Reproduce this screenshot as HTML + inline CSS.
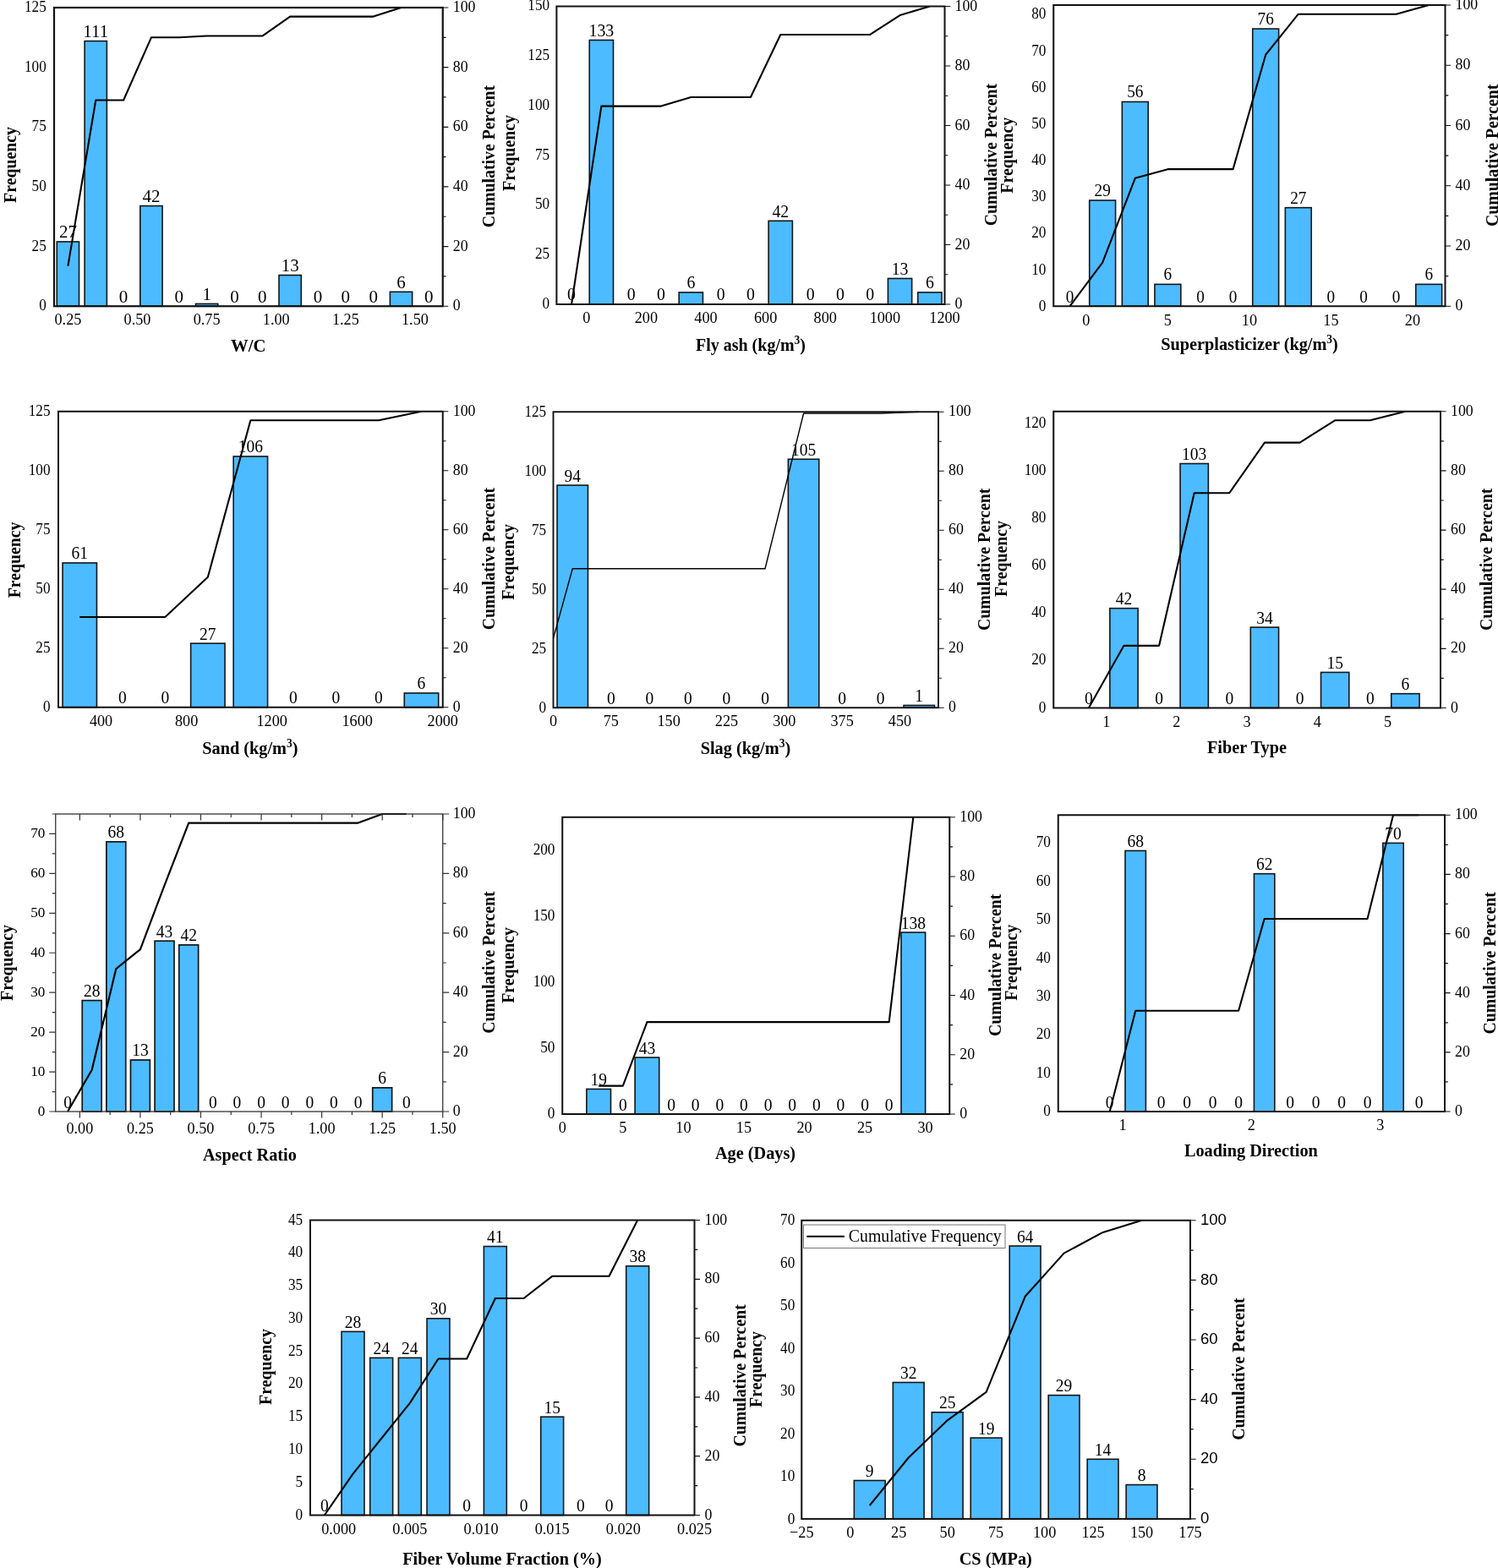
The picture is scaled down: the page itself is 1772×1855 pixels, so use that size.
<!DOCTYPE html>
<html lang="en">
<head>
<meta charset="utf-8">
<title>Histograms with cumulative percent</title>
<style>
html,body{margin:0;padding:0;background:#fff;}
body{width:1772px;height:1855px;overflow:hidden;}
svg{display:block;font-family:"Liberation Serif",serif;fill:#000;}
.bl text{text-anchor:middle;}
.rls text{font-family:"Liberation Sans",sans-serif;font-size:18.5px;}
.tt{font-weight:bold;}
.sup{font-size:13.5px;}
.lg{font-size:19.8px;}
</style>
</head>
<body>
<svg width="1772" height="1855" viewBox="0 0 1772 1855">
<defs><clipPath id="cp0"><rect x="64" y="8" width="459.75" height="355.25"/></clipPath><clipPath id="cp1"><rect x="658.4" y="6.5" width="459.1" height="354.5"/></clipPath><clipPath id="cp2"><rect x="1246.25" y="5" width="463.25" height="358.25"/></clipPath><clipPath id="cp3"><rect x="69" y="485.75" width="454.75" height="352"/></clipPath><clipPath id="cp4"><rect x="654.5" y="486.25" width="455.5" height="352"/></clipPath><clipPath id="cp5"><rect x="1246.25" y="485.75" width="457.75" height="352.75"/></clipPath><clipPath id="cp6"><rect x="65.75" y="962" width="458" height="354"/></clipPath><clipPath id="cp7"><rect x="665.25" y="965.75" width="458" height="353.25"/></clipPath><clipPath id="cp8"><rect x="1251.75" y="963.25" width="457.25" height="352.75"/></clipPath><clipPath id="cp9"><rect x="367" y="1442.5" width="454.5" height="351"/></clipPath><clipPath id="cp10"><rect x="948.25" y="1442.75" width="459.75" height="355.15"/></clipPath></defs>
<rect width="1772" height="1855" fill="#fff"/>
<g class="chart">
<g fill="#4DBBFF" stroke="#151515" stroke-width="1.6"><rect x="67.28" y="285.95" width="26.27" height="76.3"/><rect x="100.12" y="48.56" width="26.27" height="313.69"/><rect x="165.8" y="243.56" width="26.27" height="118.69"/><rect x="231.48" y="359.42" width="26.27" height="2.83"/><rect x="330" y="325.51" width="26.27" height="36.74"/><rect x="461.36" y="345.29" width="26.27" height="16.96"/></g>
<g class="bl" font-size="21"><text transform="translate(80.42 281.45) scale(1 1.02)">27</text><text transform="translate(113.26 44.06) scale(1 1.02)">111</text><text transform="translate(146.1 358.25) scale(1 1.02)">0</text><text transform="translate(178.94 239.06) scale(1 1.02)">42</text><text transform="translate(211.78 358.25) scale(1 1.02)">0</text><text transform="translate(244.62 354.92) scale(1 1.02)">1</text><text transform="translate(277.46 358.25) scale(1 1.02)">0</text><text transform="translate(310.29 358.25) scale(1 1.02)">0</text><text transform="translate(343.13 321.01) scale(1 1.02)">13</text><text transform="translate(375.97 358.25) scale(1 1.02)">0</text><text transform="translate(408.81 358.25) scale(1 1.02)">0</text><text transform="translate(441.65 358.25) scale(1 1.02)">0</text><text transform="translate(474.49 340.79) scale(1 1.02)">6</text><text transform="translate(507.33 358.25) scale(1 1.02)">0</text></g>
<path d="M523.75 362.25h6.6M523.75 326.93h3.8M523.75 291.6h6.6M523.75 256.27h3.8M523.75 220.95h6.6M523.75 185.62h3.8M523.75 150.3h6.6M523.75 114.97h3.8M523.75 79.65h6.6M523.75 44.32h3.8M523.75 9h6.6" stroke="#111" stroke-width="1.2" fill="none"/>
<path d="M80.42 314.56 L113.26 118.51 L146.1 118.51 L178.94 44.32 L211.78 44.32 L244.62 42.56 L277.46 42.56 L310.29 42.56 L343.13 19.6 L375.97 19.6 L408.81 19.6 L441.65 19.6 L474.49 9 L507.33 9" fill="none" stroke="#000" stroke-width="2.1" stroke-linejoin="round" clip-path="url(#cp0)"/>
<rect x="64" y="9" width="459.75" height="353.25" fill="none" stroke="#111" stroke-width="2.2"/>
<g class="tl" font-size="17.2"><text transform="translate(54.8 367.25) scale(1 1.1)" text-anchor="end">0</text><text transform="translate(54.8 296.6) scale(1 1.1)" text-anchor="end">25</text><text transform="translate(54.8 225.95) scale(1 1.1)" text-anchor="end">50</text><text transform="translate(54.8 155.3) scale(1 1.1)" text-anchor="end">75</text><text transform="translate(54.8 84.65) scale(1 1.1)" text-anchor="end">100</text><text transform="translate(54.8 14) scale(1 1.1)" text-anchor="end">125</text></g>
<g class="tl" font-size="18.2"><text transform="translate(80.42 384.25) scale(1 1.08)" text-anchor="middle">0.25</text><text transform="translate(162.52 384.25) scale(1 1.08)" text-anchor="middle">0.50</text><text transform="translate(244.62 384.25) scale(1 1.08)" text-anchor="middle">0.75</text><text transform="translate(326.71 384.25) scale(1 1.08)" text-anchor="middle">1.00</text><text transform="translate(408.81 384.25) scale(1 1.08)" text-anchor="middle">1.25</text><text transform="translate(490.91 384.25) scale(1 1.08)" text-anchor="middle">1.50</text></g>
<g class="tl" font-size="17.8"><text transform="translate(535.75 367.25) scale(1 1.06)">0</text><text transform="translate(535.75 296.6) scale(1 1.06)">20</text><text transform="translate(535.75 225.95) scale(1 1.06)">40</text><text transform="translate(535.75 155.3) scale(1 1.06)">60</text><text transform="translate(535.75 84.65) scale(1 1.06)">80</text><text transform="translate(535.75 14) scale(1 1.06)">100</text></g>
<text transform="translate(18.7 195) rotate(-90) scale(1 1.06)" text-anchor="middle" class="tt" font-size="19.8">Frequency</text>
<text transform="translate(585.3 185) rotate(-90) scale(1 1.06)" text-anchor="middle" class="tt" font-size="19.8">Cumulative Percent</text>
<text transform="translate(293.75 415.5) scale(1 1.04)" text-anchor="middle" class="tt" font-size="20.7">W/C</text>
</g>
<g class="chart">
<g fill="#4DBBFF" stroke="#151515" stroke-width="1.6"><rect x="697.25" y="47.45" width="28.25" height="312.55"/><rect x="803.19" y="345.9" width="28.25" height="14.1"/><rect x="909.14" y="261.3" width="28.25" height="98.7"/><rect x="1050.4" y="329.45" width="28.25" height="30.55"/><rect x="1085.72" y="345.9" width="28.25" height="14.1"/></g>
<g class="bl" font-size="19.8"><text transform="translate(676.06 355) scale(1 1.06)">0</text><text transform="translate(711.37 42.95) scale(1 1.06)">133</text><text transform="translate(746.69 355) scale(1 1.06)">0</text><text transform="translate(782 355) scale(1 1.06)">0</text><text transform="translate(817.32 341.4) scale(1 1.06)">6</text><text transform="translate(852.63 355) scale(1 1.06)">0</text><text transform="translate(887.95 355) scale(1 1.06)">0</text><text transform="translate(923.27 256.8) scale(1 1.06)">42</text><text transform="translate(958.58 355) scale(1 1.06)">0</text><text transform="translate(993.9 355) scale(1 1.06)">0</text><text transform="translate(1029.21 355) scale(1 1.06)">0</text><text transform="translate(1064.53 324.95) scale(1 1.06)">13</text><text transform="translate(1099.84 341.4) scale(1 1.06)">6</text></g>
<path d="M1117.5 360h6.6M1117.5 324.75h3.8M1117.5 289.5h6.6M1117.5 254.25h3.8M1117.5 219h6.6M1117.5 183.75h3.8M1117.5 148.5h6.6M1117.5 113.25h3.8M1117.5 78h6.6M1117.5 42.75h3.8M1117.5 7.5h6.6" stroke="#111" stroke-width="1.2" fill="none"/>
<path d="M676.06 360 L711.37 125.59 L746.69 125.59 L782 125.59 L817.32 115.01 L852.63 115.01 L887.95 115.01 L923.27 40.99 L958.58 40.99 L993.9 40.99 L1029.21 40.99 L1064.53 18.07 L1099.84 7.5" fill="none" stroke="#000" stroke-width="2.1" stroke-linejoin="round" clip-path="url(#cp1)"/>
<rect x="658.4" y="7.5" width="459.1" height="352.5" fill="none" stroke="#111" stroke-width="2.0"/>
<g class="tl" font-size="17.2"><text transform="translate(650.1 364.9) scale(1 1.04)" text-anchor="end">0</text><text transform="translate(650.1 306.15) scale(1 1.04)" text-anchor="end">25</text><text transform="translate(650.1 247.4) scale(1 1.04)" text-anchor="end">50</text><text transform="translate(650.1 188.65) scale(1 1.04)" text-anchor="end">75</text><text transform="translate(650.1 129.9) scale(1 1.04)" text-anchor="end">100</text><text transform="translate(650.1 71.15) scale(1 1.04)" text-anchor="end">125</text><text transform="translate(650.1 12.4) scale(1 1.04)" text-anchor="end">150</text></g>
<g class="tl" font-size="18.2"><text transform="translate(693.72 381.5) scale(1 1.02)" text-anchor="middle">0</text><text transform="translate(764.35 381.5) scale(1 1.02)" text-anchor="middle">200</text><text transform="translate(834.98 381.5) scale(1 1.02)" text-anchor="middle">400</text><text transform="translate(905.61 381.5) scale(1 1.02)" text-anchor="middle">600</text><text transform="translate(976.24 381.5) scale(1 1.02)" text-anchor="middle">800</text><text transform="translate(1046.87 381.5) scale(1 1.02)" text-anchor="middle">1000</text><text transform="translate(1117.5 381.5) scale(1 1.02)" text-anchor="middle">1200</text></g>
<g class="tl" font-size="17.8"><text transform="translate(1129.5 365) scale(1 1.06)">0</text><text transform="translate(1129.5 294.5) scale(1 1.06)">20</text><text transform="translate(1129.5 224) scale(1 1.06)">40</text><text transform="translate(1129.5 153.5) scale(1 1.06)">60</text><text transform="translate(1129.5 83) scale(1 1.06)">80</text><text transform="translate(1129.5 12.5) scale(1 1.06)">100</text></g>
<text transform="translate(608.7 181) rotate(-90) scale(1 1.06)" text-anchor="middle" class="tt" font-size="19.8">Frequency</text>
<text transform="translate(1178.5 183) rotate(-90) scale(1 1.06)" text-anchor="middle" class="tt" font-size="19.8">Cumulative Percent</text>
<text transform="translate(888 415) scale(1 1.04)" text-anchor="middle" class="tt" font-size="20">Fly ash (kg/m<tspan class="sup" dy="-7.5">3</tspan><tspan dy="7.5">)</tspan></text>
</g>
<g class="chart">
<g fill="#4DBBFF" stroke="#151515" stroke-width="1.6"><rect x="1288.71" y="237.02" width="30.88" height="125.23"/><rect x="1327.32" y="120.43" width="30.88" height="241.82"/><rect x="1365.92" y="336.34" width="30.88" height="25.91"/><rect x="1481.74" y="34.07" width="30.88" height="328.18"/><rect x="1520.34" y="245.66" width="30.88" height="116.59"/><rect x="1674.76" y="336.34" width="30.88" height="25.91"/></g>
<g class="bl" font-size="19.2"><text transform="translate(1265.55 357.75) scale(1 1.06)">0</text><text transform="translate(1304.16 232.02) scale(1 1.06)">29</text><text transform="translate(1342.76 115.43) scale(1 1.06)">56</text><text transform="translate(1381.36 331.34) scale(1 1.06)">6</text><text transform="translate(1419.97 357.75) scale(1 1.06)">0</text><text transform="translate(1458.57 357.75) scale(1 1.06)">0</text><text transform="translate(1497.18 29.07) scale(1 1.06)">76</text><text transform="translate(1535.78 240.66) scale(1 1.06)">27</text><text transform="translate(1574.39 357.75) scale(1 1.06)">0</text><text transform="translate(1612.99 357.75) scale(1 1.06)">0</text><text transform="translate(1651.59 357.75) scale(1 1.06)">0</text><text transform="translate(1690.2 331.34) scale(1 1.06)">6</text></g>
<path d="M1709.5 362.25h6.6M1709.5 326.62h3.8M1709.5 291h6.6M1709.5 255.38h3.8M1709.5 219.75h6.6M1709.5 184.12h3.8M1709.5 148.5h6.6M1709.5 112.88h3.8M1709.5 77.25h6.6M1709.5 41.62h3.8M1709.5 6h6.6" stroke="#111" stroke-width="1.2" fill="none"/>
<path d="M1265.55 362.25 L1304.16 310.59 L1342.76 210.84 L1381.36 200.16 L1419.97 200.16 L1458.57 200.16 L1497.18 64.78 L1535.78 16.69 L1574.39 16.69 L1612.99 16.69 L1651.59 16.69 L1690.2 6" fill="none" stroke="#000" stroke-width="2.1" stroke-linejoin="round" clip-path="url(#cp2)"/>
<rect x="1246.25" y="6" width="463.25" height="356.25" fill="none" stroke="#111" stroke-width="2.0"/>
<g class="tl" font-size="17.2"><text transform="translate(1237.45 367.85) scale(1 1.04)" text-anchor="end">0</text><text transform="translate(1237.45 324.67) scale(1 1.04)" text-anchor="end">10</text><text transform="translate(1237.45 281.49) scale(1 1.04)" text-anchor="end">20</text><text transform="translate(1237.45 238.3) scale(1 1.04)" text-anchor="end">30</text><text transform="translate(1237.45 195.12) scale(1 1.04)" text-anchor="end">40</text><text transform="translate(1237.45 151.94) scale(1 1.04)" text-anchor="end">50</text><text transform="translate(1237.45 108.76) scale(1 1.04)" text-anchor="end">60</text><text transform="translate(1237.45 65.58) scale(1 1.04)" text-anchor="end">70</text><text transform="translate(1237.45 22.4) scale(1 1.04)" text-anchor="end">80</text></g>
<g class="tl" font-size="18.2"><text transform="translate(1284.85 384.85) scale(1 1.06)" text-anchor="middle">0</text><text transform="translate(1381.36 384.85) scale(1 1.06)" text-anchor="middle">5</text><text transform="translate(1477.88 384.85) scale(1 1.06)" text-anchor="middle">10</text><text transform="translate(1574.39 384.85) scale(1 1.06)" text-anchor="middle">15</text><text transform="translate(1670.9 384.85) scale(1 1.06)" text-anchor="middle">20</text></g>
<g class="tl" font-size="17.8"><text transform="translate(1721.5 367.25) scale(1 1.06)">0</text><text transform="translate(1721.5 296) scale(1 1.06)">20</text><text transform="translate(1721.5 224.75) scale(1 1.06)">40</text><text transform="translate(1721.5 153.5) scale(1 1.06)">60</text><text transform="translate(1721.5 82.25) scale(1 1.06)">80</text><text transform="translate(1721.5 11) scale(1 1.06)">100</text></g>
<text transform="translate(1198.2 183.75) rotate(-90) scale(1 1.06)" text-anchor="middle" class="tt" font-size="19.8">Frequency</text>
<text transform="translate(1771.5 183.75) rotate(-90) scale(1 1.06)" text-anchor="middle" class="tt" font-size="19.8">Cumulative Percent</text>
<text transform="translate(1478 413.75) scale(1 1.04)" text-anchor="middle" class="tt" font-size="20.3">Superplasticizer (kg/m<tspan class="sup" dy="-7.5">3</tspan><tspan dy="7.5">)</tspan></text>
</g>
<g class="chart">
<g fill="#4DBBFF" stroke="#151515" stroke-width="1.6"><rect x="74.05" y="665.95" width="40.42" height="170.8"/><rect x="225.64" y="761.15" width="40.42" height="75.6"/><rect x="276.16" y="539.95" width="40.42" height="296.8"/><rect x="478.28" y="819.95" width="40.42" height="16.8"/></g>
<g class="bl" font-size="19.5"><text transform="translate(94.26 661.45) scale(1 1.06)">61</text><text transform="translate(144.79 832.25) scale(1 1.06)">0</text><text transform="translate(195.32 832.25) scale(1 1.06)">0</text><text transform="translate(245.85 756.65) scale(1 1.06)">27</text><text transform="translate(296.38 535.45) scale(1 1.06)">106</text><text transform="translate(346.9 832.25) scale(1 1.06)">0</text><text transform="translate(397.43 832.25) scale(1 1.06)">0</text><text transform="translate(447.96 832.25) scale(1 1.06)">0</text><text transform="translate(498.49 815.45) scale(1 1.06)">6</text></g>
<path d="M523.75 836.75h6.6M523.75 801.75h3.8M523.75 766.75h6.6M523.75 731.75h3.8M523.75 696.75h6.6M523.75 661.75h3.8M523.75 626.75h6.6M523.75 591.75h3.8M523.75 556.75h6.6M523.75 521.75h3.8M523.75 486.75h6.6" stroke="#111" stroke-width="1.2" fill="none"/>
<path d="M94.26 730 L144.79 730 L195.32 730 L245.85 682.75 L296.38 497.25 L346.9 497.25 L397.43 497.25 L447.96 497.25 L498.49 486.75" fill="none" stroke="#000" stroke-width="2.1" stroke-linejoin="round" clip-path="url(#cp3)"/>
<rect x="69" y="486.75" width="454.75" height="350" fill="none" stroke="#111" stroke-width="2.0"/>
<g class="tl" font-size="17.2"><text transform="translate(59.5 841.75) scale(1 1.06)" text-anchor="end">0</text><text transform="translate(59.5 771.75) scale(1 1.06)" text-anchor="end">25</text><text transform="translate(59.5 701.75) scale(1 1.06)" text-anchor="end">50</text><text transform="translate(59.5 631.75) scale(1 1.06)" text-anchor="end">75</text><text transform="translate(59.5 561.75) scale(1 1.06)" text-anchor="end">100</text><text transform="translate(59.5 491.75) scale(1 1.06)" text-anchor="end">125</text></g>
<g class="tl" font-size="18.2"><text transform="translate(119.53 858.75) scale(1 1.05)" text-anchor="middle">400</text><text transform="translate(220.58 858.75) scale(1 1.05)" text-anchor="middle">800</text><text transform="translate(321.64 858.75) scale(1 1.05)" text-anchor="middle">1200</text><text transform="translate(422.69 858.75) scale(1 1.05)" text-anchor="middle">1600</text><text transform="translate(523.75 858.75) scale(1 1.05)" text-anchor="middle">2000</text></g>
<g class="tl" font-size="17.8"><text transform="translate(535.75 841.75) scale(1 1.06)">0</text><text transform="translate(535.75 771.75) scale(1 1.06)">20</text><text transform="translate(535.75 701.75) scale(1 1.06)">40</text><text transform="translate(535.75 631.75) scale(1 1.06)">60</text><text transform="translate(535.75 561.75) scale(1 1.06)">80</text><text transform="translate(535.75 491.75) scale(1 1.06)">100</text></g>
<text transform="translate(23.7 662.4) rotate(-90) scale(1 1.06)" text-anchor="middle" class="tt" font-size="19.8">Frequency</text>
<text transform="translate(585.3 661) rotate(-90) scale(1 1.06)" text-anchor="middle" class="tt" font-size="19.8">Cumulative Percent</text>
<text transform="translate(295.9 891.75) scale(1 1.04)" text-anchor="middle" class="tt" font-size="20.3">Sand (kg/m<tspan class="sup" dy="-7.5">3</tspan><tspan dy="7.5">)</tspan></text>
</g>
<g class="chart">
<g fill="#4DBBFF" stroke="#151515" stroke-width="1.6"><rect x="659.05" y="574.05" width="36.44" height="263.2"/><rect x="932.36" y="543.25" width="36.44" height="294"/><rect x="1069" y="834.45" width="36.44" height="2.8"/></g>
<g class="bl" font-size="19.5"><text transform="translate(677.27 569.55) scale(1 1.06)">94</text><text transform="translate(722.83 832.75) scale(1 1.06)">0</text><text transform="translate(768.38 832.75) scale(1 1.06)">0</text><text transform="translate(813.92 832.75) scale(1 1.06)">0</text><text transform="translate(859.48 832.75) scale(1 1.06)">0</text><text transform="translate(905.02 832.75) scale(1 1.06)">0</text><text transform="translate(950.58 538.75) scale(1 1.06)">105</text><text transform="translate(996.12 832.75) scale(1 1.06)">0</text><text transform="translate(1041.67 832.75) scale(1 1.06)">0</text><text transform="translate(1087.22 829.95) scale(1 1.06)">1</text></g>
<path d="M1110 837.25h6.6M1110 802.25h3.8M1110 767.25h6.6M1110 732.25h3.8M1110 697.25h6.6M1110 662.25h3.8M1110 627.25h6.6M1110 592.25h3.8M1110 557.25h6.6M1110 522.25h3.8M1110 487.25h6.6" stroke="#111" stroke-width="1.2" fill="none"/>
<path d="M631.73 837.25 L677.27 672.75 L722.83 672.75 L768.38 672.75 L813.92 672.75 L859.48 672.75 L905.02 672.75 L950.58 489 L996.12 489 L1041.67 489 L1087.22 487.25" fill="none" stroke="#000" stroke-width="1.4" stroke-linejoin="round" clip-path="url(#cp4)"/>
<rect x="654.5" y="487.25" width="455.5" height="350" fill="none" stroke="#111" stroke-width="1.9"/>
<g class="tl" font-size="17.2"><text transform="translate(646.2 843.15) scale(1 1.06)" text-anchor="end">0</text><text transform="translate(646.2 773.15) scale(1 1.06)" text-anchor="end">25</text><text transform="translate(646.2 703.15) scale(1 1.06)" text-anchor="end">50</text><text transform="translate(646.2 633.15) scale(1 1.06)" text-anchor="end">75</text><text transform="translate(646.2 563.15) scale(1 1.06)" text-anchor="end">100</text><text transform="translate(646.2 493.15) scale(1 1.06)" text-anchor="end">125</text></g>
<g class="tl" font-size="18.2"><text transform="translate(654.5 859.25) scale(1 1.05)" text-anchor="middle">0</text><text transform="translate(722.83 859.25) scale(1 1.05)" text-anchor="middle">75</text><text transform="translate(791.15 859.25) scale(1 1.05)" text-anchor="middle">150</text><text transform="translate(859.48 859.25) scale(1 1.05)" text-anchor="middle">225</text><text transform="translate(927.8 859.25) scale(1 1.05)" text-anchor="middle">300</text><text transform="translate(996.12 859.25) scale(1 1.05)" text-anchor="middle">375</text><text transform="translate(1064.45 859.25) scale(1 1.05)" text-anchor="middle">450</text></g>
<g class="tl" font-size="17.8"><text transform="translate(1122 842.25) scale(1 1.06)">0</text><text transform="translate(1122 772.25) scale(1 1.06)">20</text><text transform="translate(1122 702.25) scale(1 1.06)">40</text><text transform="translate(1122 632.25) scale(1 1.06)">60</text><text transform="translate(1122 562.25) scale(1 1.06)">80</text><text transform="translate(1122 492.25) scale(1 1.06)">100</text></g>
<text transform="translate(608.2 664.9) rotate(-90) scale(1 1.06)" text-anchor="middle" class="tt" font-size="19.8">Frequency</text>
<text transform="translate(1171.3 661.75) rotate(-90) scale(1 1.06)" text-anchor="middle" class="tt" font-size="19.8">Cumulative Percent</text>
<text transform="translate(881.9 892.25) scale(1 1.04)" text-anchor="middle" class="tt" font-size="20.3">Slag (kg/m<tspan class="sup" dy="-7.5">3</tspan><tspan dy="7.5">)</tspan></text>
</g>
<g class="chart">
<g fill="#4DBBFF" stroke="#151515" stroke-width="1.6"><rect x="1312.83" y="719.65" width="33.29" height="117.85"/><rect x="1396.06" y="548.48" width="33.29" height="289.02"/><rect x="1479.29" y="742.1" width="33.29" height="95.4"/><rect x="1562.51" y="795.41" width="33.29" height="42.09"/><rect x="1645.74" y="820.66" width="33.29" height="16.84"/></g>
<g class="bl" font-size="19.5"><text transform="translate(1287.86 833) scale(1 1.06)">0</text><text transform="translate(1329.48 715.15) scale(1 1.06)">42</text><text transform="translate(1371.09 833) scale(1 1.06)">0</text><text transform="translate(1412.7 543.98) scale(1 1.06)">103</text><text transform="translate(1454.32 833) scale(1 1.06)">0</text><text transform="translate(1495.93 737.6) scale(1 1.06)">34</text><text transform="translate(1537.55 833) scale(1 1.06)">0</text><text transform="translate(1579.16 790.91) scale(1 1.06)">15</text><text transform="translate(1620.77 833) scale(1 1.06)">0</text><text transform="translate(1662.39 816.16) scale(1 1.06)">6</text></g>
<path d="M1704 837.5h6.6M1704 802.42h3.8M1704 767.35h6.6M1704 732.27h3.8M1704 697.2h6.6M1704 662.12h3.8M1704 627.05h6.6M1704 591.98h3.8M1704 556.9h6.6M1704 521.83h3.8M1704 486.75h6.6" stroke="#111" stroke-width="1.2" fill="none"/>
<path d="M1287.86 837.5 L1329.48 763.84 L1371.09 763.84 L1412.7 583.21 L1454.32 583.21 L1495.93 523.58 L1537.55 523.58 L1579.16 497.27 L1620.77 497.27 L1662.39 486.75" fill="none" stroke="#000" stroke-width="2.1" stroke-linejoin="round" clip-path="url(#cp5)"/>
<rect x="1246.25" y="486.75" width="457.75" height="350.75" fill="none" stroke="#111" stroke-width="2.0"/>
<g class="tl" font-size="17.2"><text transform="translate(1237.45 842.5) scale(1 1.06)" text-anchor="end">0</text><text transform="translate(1237.45 786.38) scale(1 1.06)" text-anchor="end">20</text><text transform="translate(1237.45 730.26) scale(1 1.06)" text-anchor="end">40</text><text transform="translate(1237.45 674.14) scale(1 1.06)" text-anchor="end">60</text><text transform="translate(1237.45 618.02) scale(1 1.06)" text-anchor="end">80</text><text transform="translate(1237.45 561.9) scale(1 1.06)" text-anchor="end">100</text><text transform="translate(1237.45 505.78) scale(1 1.06)" text-anchor="end">120</text></g>
<g class="tl" font-size="18.2"><text transform="translate(1308.67 859.5) scale(1 1.05)" text-anchor="middle">1</text><text transform="translate(1391.9 859.5) scale(1 1.05)" text-anchor="middle">2</text><text transform="translate(1475.12 859.5) scale(1 1.05)" text-anchor="middle">3</text><text transform="translate(1558.35 859.5) scale(1 1.05)" text-anchor="middle">4</text><text transform="translate(1641.58 859.5) scale(1 1.05)" text-anchor="middle">5</text></g>
<g class="tl" font-size="17.8"><text transform="translate(1716 842.5) scale(1 1.06)">0</text><text transform="translate(1716 772.35) scale(1 1.06)">20</text><text transform="translate(1716 702.2) scale(1 1.06)">40</text><text transform="translate(1716 632.05) scale(1 1.06)">60</text><text transform="translate(1716 561.9) scale(1 1.06)">80</text><text transform="translate(1716 491.75) scale(1 1.06)">100</text></g>
<text transform="translate(1190.7 661) rotate(-90) scale(1 1.06)" text-anchor="middle" class="tt" font-size="19.8">Frequency</text>
<text transform="translate(1765 661.75) rotate(-90) scale(1 1.06)" text-anchor="middle" class="tt" font-size="19.8">Cumulative Percent</text>
<text transform="translate(1475 890.5) scale(1 1.04)" text-anchor="middle" class="tt" font-size="20.3">Fiber Type</text>
</g>
<g class="chart">
<g fill="#4DBBFF" stroke="#151515" stroke-width="1.7"><rect x="97.24" y="1183.59" width="22.9" height="131.41"/><rect x="125.86" y="995.85" width="22.9" height="319.15"/><rect x="154.49" y="1253.99" width="22.9" height="61.01"/><rect x="183.11" y="1113.19" width="22.9" height="201.81"/><rect x="211.74" y="1117.88" width="22.9" height="197.12"/><rect x="440.74" y="1286.84" width="22.9" height="28.16"/></g>
<g class="bl" font-size="19.5"><text transform="translate(80.06 1310.5) scale(1 1.06)">0</text><text transform="translate(108.69 1179.09) scale(1 1.06)">28</text><text transform="translate(137.31 991.35) scale(1 1.06)">68</text><text transform="translate(165.94 1249.49) scale(1 1.06)">13</text><text transform="translate(194.56 1108.69) scale(1 1.06)">43</text><text transform="translate(223.19 1113.38) scale(1 1.06)">42</text><text transform="translate(251.81 1310.5) scale(1 1.06)">0</text><text transform="translate(280.44 1310.5) scale(1 1.06)">0</text><text transform="translate(309.06 1310.5) scale(1 1.06)">0</text><text transform="translate(337.69 1310.5) scale(1 1.06)">0</text><text transform="translate(366.31 1310.5) scale(1 1.06)">0</text><text transform="translate(394.94 1310.5) scale(1 1.06)">0</text><text transform="translate(423.56 1310.5) scale(1 1.06)">0</text><text transform="translate(452.19 1282.34) scale(1 1.06)">6</text><text transform="translate(480.81 1310.5) scale(1 1.06)">0</text></g>
<path d="M523.75 1315h7.5M523.75 1279.8h4M523.75 1244.6h7.5M523.75 1209.4h4M523.75 1174.2h7.5M523.75 1139h4M523.75 1103.8h7.5M523.75 1068.6h4M523.75 1033.4h7.5M523.75 998.2h4M523.75 963h7.5M65.75 1315h-7.5M65.75 1291.53h-4M65.75 1268.07h-7.5M65.75 1244.6h-4M65.75 1221.13h-7.5M65.75 1197.67h-4M65.75 1174.2h-7.5M65.75 1150.73h-4M65.75 1127.27h-7.5M65.75 1103.8h-4M65.75 1080.33h-7.5M65.75 1056.87h-4M65.75 1033.4h-7.5M65.75 1009.93h-4M65.75 986.47h-7.5M65.75 963h-4M94.38 1315v7.5M94.38 963v7.5M130.16 1315v4M130.16 963v4M165.94 1315v7.5M165.94 963v7.5M201.72 1315v4M201.72 963v4M237.5 1315v7.5M237.5 963v7.5M273.28 1315v4M273.28 963v4M309.06 1315v7.5M309.06 963v7.5M344.84 1315v4M344.84 963v4M380.62 1315v7.5M380.62 963v7.5M416.41 1315v4M416.41 963v4M452.19 1315v7.5M452.19 963v7.5M487.97 1315v4M487.97 963v4M523.75 1315v7.5M523.75 963v7.5" stroke="#333" stroke-width="1.2" fill="none"/>
<path d="M80.06 1315 L108.69 1265.72 L137.31 1146.04 L165.94 1123.16 L194.56 1047.48 L223.19 973.56 L251.81 973.56 L280.44 973.56 L309.06 973.56 L337.69 973.56 L366.31 973.56 L394.94 973.56 L423.56 973.56 L452.19 963 L480.81 963" fill="none" stroke="#000" stroke-width="2.2" stroke-linejoin="round" clip-path="url(#cp6)"/>
<rect x="65.75" y="963" width="458" height="352" fill="none" stroke="#333" stroke-width="1.3"/>
<g class="tl" font-size="17.2"><text transform="translate(53.45 1320)" text-anchor="end">0</text><text transform="translate(53.45 1273.07)" text-anchor="end">10</text><text transform="translate(53.45 1226.13)" text-anchor="end">20</text><text transform="translate(53.45 1179.2)" text-anchor="end">30</text><text transform="translate(53.45 1132.27)" text-anchor="end">40</text><text transform="translate(53.45 1085.33)" text-anchor="end">50</text><text transform="translate(53.45 1038.4)" text-anchor="end">60</text><text transform="translate(53.45 991.47)" text-anchor="end">70</text></g>
<g class="tl" font-size="18.2"><text transform="translate(94.38 1341) scale(1 1.05)" text-anchor="middle">0.00</text><text transform="translate(165.94 1341) scale(1 1.05)" text-anchor="middle">0.25</text><text transform="translate(237.5 1341) scale(1 1.05)" text-anchor="middle">0.50</text><text transform="translate(309.06 1341) scale(1 1.05)" text-anchor="middle">0.75</text><text transform="translate(380.62 1341) scale(1 1.05)" text-anchor="middle">1.00</text><text transform="translate(452.19 1341) scale(1 1.05)" text-anchor="middle">1.25</text><text transform="translate(523.75 1341) scale(1 1.05)" text-anchor="middle">1.50</text></g>
<g class="tl" font-size="17.8"><text transform="translate(535.75 1320) scale(1 1.06)">0</text><text transform="translate(535.75 1249.6) scale(1 1.06)">20</text><text transform="translate(535.75 1179.2) scale(1 1.06)">40</text><text transform="translate(535.75 1108.8) scale(1 1.06)">60</text><text transform="translate(535.75 1038.4) scale(1 1.06)">80</text><text transform="translate(535.75 968) scale(1 1.06)">100</text></g>
<text transform="translate(15.4 1139) rotate(-90) scale(1 1.06)" text-anchor="middle" class="tt" font-size="19.8">Frequency</text>
<text transform="translate(585.3 1138.5) rotate(-90) scale(1 1.06)" text-anchor="middle" class="tt" font-size="19.8">Cumulative Percent</text>
<text transform="translate(295.4 1372.5) scale(1 1.04)" text-anchor="middle" class="tt" font-size="20.3">Aspect Ratio</text>
</g>
<g class="chart">
<g fill="#4DBBFF" stroke="#151515" stroke-width="1.6"><rect x="693.88" y="1288.4" width="28.62" height="29.6"/><rect x="751.12" y="1251.02" width="28.62" height="66.98"/><rect x="1066" y="1103.04" width="28.62" height="214.96"/></g>
<g class="bl" font-size="19.5"><text transform="translate(708.19 1283.9) scale(1 1.06)">19</text><text transform="translate(736.81 1313.5) scale(1 1.06)">0</text><text transform="translate(765.44 1246.52) scale(1 1.06)">43</text><text transform="translate(794.06 1313.5) scale(1 1.06)">0</text><text transform="translate(822.69 1313.5) scale(1 1.06)">0</text><text transform="translate(851.31 1313.5) scale(1 1.06)">0</text><text transform="translate(879.94 1313.5) scale(1 1.06)">0</text><text transform="translate(908.56 1313.5) scale(1 1.06)">0</text><text transform="translate(937.19 1313.5) scale(1 1.06)">0</text><text transform="translate(965.81 1313.5) scale(1 1.06)">0</text><text transform="translate(994.44 1313.5) scale(1 1.06)">0</text><text transform="translate(1023.06 1313.5) scale(1 1.06)">0</text><text transform="translate(1051.69 1313.5) scale(1 1.06)">0</text><text transform="translate(1080.31 1098.54) scale(1 1.06)">138</text></g>
<path d="M1123.25 1318h6.6M1123.25 1282.88h3.8M1123.25 1247.75h6.6M1123.25 1212.62h3.8M1123.25 1177.5h6.6M1123.25 1142.38h3.8M1123.25 1107.25h6.6M1123.25 1072.12h3.8M1123.25 1037h6.6M1123.25 1001.88h3.8M1123.25 966.75h6.6" stroke="#111" stroke-width="1.2" fill="none"/>
<path d="M708.19 1284.63 L736.81 1284.63 L765.44 1209.11 L794.06 1209.11 L822.69 1209.11 L851.31 1209.11 L879.94 1209.11 L908.56 1209.11 L937.19 1209.11 L965.81 1209.11 L994.44 1209.11 L1023.06 1209.11 L1051.69 1209.11 L1080.31 966.75" fill="none" stroke="#000" stroke-width="2.1" stroke-linejoin="round" clip-path="url(#cp7)"/>
<rect x="665.25" y="966.75" width="458" height="351.25" fill="none" stroke="#111" stroke-width="2.0"/>
<g class="tl" font-size="17.2"><text transform="translate(656.45 1323) scale(1 1.06)" text-anchor="end">0</text><text transform="translate(656.45 1245.12) scale(1 1.06)" text-anchor="end">50</text><text transform="translate(656.45 1167.24) scale(1 1.06)" text-anchor="end">100</text><text transform="translate(656.45 1089.35) scale(1 1.06)" text-anchor="end">150</text><text transform="translate(656.45 1011.47) scale(1 1.06)" text-anchor="end">200</text></g>
<g class="tl" font-size="18.2"><text transform="translate(665.25 1340) scale(1 1.05)" text-anchor="middle">0</text><text transform="translate(736.81 1340) scale(1 1.05)" text-anchor="middle">5</text><text transform="translate(808.38 1340) scale(1 1.05)" text-anchor="middle">10</text><text transform="translate(879.94 1340) scale(1 1.05)" text-anchor="middle">15</text><text transform="translate(951.5 1340) scale(1 1.05)" text-anchor="middle">20</text><text transform="translate(1023.06 1340) scale(1 1.05)" text-anchor="middle">25</text><text transform="translate(1094.62 1340) scale(1 1.05)" text-anchor="middle">30</text></g>
<g class="tl" font-size="17.8"><text transform="translate(1135.25 1323) scale(1 1.06)">0</text><text transform="translate(1135.25 1252.75) scale(1 1.06)">20</text><text transform="translate(1135.25 1182.5) scale(1 1.06)">40</text><text transform="translate(1135.25 1112.25) scale(1 1.06)">60</text><text transform="translate(1135.25 1042) scale(1 1.06)">80</text><text transform="translate(1135.25 971.75) scale(1 1.06)">100</text></g>
<text transform="translate(608.2 1141.9) rotate(-90) scale(1 1.06)" text-anchor="middle" class="tt" font-size="19.8">Frequency</text>
<text transform="translate(1183.5 1141.9) rotate(-90) scale(1 1.06)" text-anchor="middle" class="tt" font-size="19.8">Cumulative Percent</text>
<text transform="translate(893.5 1371.25) scale(1 1.04)" text-anchor="middle" class="tt" font-size="20.3">Age (Days)</text>
</g>
<g class="chart">
<g fill="#4DBBFF" stroke="#151515" stroke-width="1.6"><rect x="1331.01" y="1006.45" width="24.39" height="308.55"/><rect x="1483.42" y="1033.67" width="24.39" height="281.33"/><rect x="1635.84" y="997.37" width="24.39" height="317.63"/></g>
<g class="bl" font-size="19.5"><text transform="translate(1312.72 1310.5) scale(1 1.06)">0</text><text transform="translate(1343.2 1001.95) scale(1 1.06)">68</text><text transform="translate(1373.68 1310.5) scale(1 1.06)">0</text><text transform="translate(1404.17 1310.5) scale(1 1.06)">0</text><text transform="translate(1434.65 1310.5) scale(1 1.06)">0</text><text transform="translate(1465.13 1310.5) scale(1 1.06)">0</text><text transform="translate(1495.62 1029.17) scale(1 1.06)">62</text><text transform="translate(1526.1 1310.5) scale(1 1.06)">0</text><text transform="translate(1556.58 1310.5) scale(1 1.06)">0</text><text transform="translate(1587.07 1310.5) scale(1 1.06)">0</text><text transform="translate(1617.55 1310.5) scale(1 1.06)">0</text><text transform="translate(1648.03 992.87) scale(1 1.06)">70</text><text transform="translate(1678.52 1310.5) scale(1 1.06)">0</text></g>
<path d="M1709 1315h6.6M1709 1279.92h3.8M1709 1244.85h6.6M1709 1209.78h3.8M1709 1174.7h6.6M1709 1139.62h3.8M1709 1104.55h6.6M1709 1069.47h3.8M1709 1034.4h6.6M1709 999.33h3.8M1709 964.25h6.6" stroke="#111" stroke-width="1.2" fill="none"/>
<path d="M1312.72 1315 L1343.2 1195.74 L1373.68 1195.74 L1404.17 1195.74 L1434.65 1195.74 L1465.13 1195.74 L1495.62 1087.01 L1526.1 1087.01 L1556.58 1087.01 L1587.07 1087.01 L1617.55 1087.01 L1648.03 964.25 L1678.52 964.25" fill="none" stroke="#000" stroke-width="2.1" stroke-linejoin="round" clip-path="url(#cp8)"/>
<rect x="1251.75" y="964.25" width="457.25" height="350.75" fill="none" stroke="#111" stroke-width="2.0"/>
<g class="tl" font-size="17.2"><text transform="translate(1242.95 1320) scale(1 1.06)" text-anchor="end">0</text><text transform="translate(1242.95 1274.62) scale(1 1.06)" text-anchor="end">10</text><text transform="translate(1242.95 1229.25) scale(1 1.06)" text-anchor="end">20</text><text transform="translate(1242.95 1183.87) scale(1 1.06)" text-anchor="end">30</text><text transform="translate(1242.95 1138.5) scale(1 1.06)" text-anchor="end">40</text><text transform="translate(1242.95 1093.12) scale(1 1.06)" text-anchor="end">50</text><text transform="translate(1242.95 1047.75) scale(1 1.06)" text-anchor="end">60</text><text transform="translate(1242.95 1002.37) scale(1 1.06)" text-anchor="end">70</text></g>
<g class="tl" font-size="18.2"><text transform="translate(1327.96 1337) scale(1 1.05)" text-anchor="middle">1</text><text transform="translate(1480.38 1337) scale(1 1.05)" text-anchor="middle">2</text><text transform="translate(1632.79 1337) scale(1 1.05)" text-anchor="middle">3</text></g>
<g class="tl" font-size="17.8"><text transform="translate(1721 1320) scale(1 1.06)">0</text><text transform="translate(1721 1249.85) scale(1 1.06)">20</text><text transform="translate(1721 1179.7) scale(1 1.06)">40</text><text transform="translate(1721 1109.55) scale(1 1.06)">60</text><text transform="translate(1721 1039.4) scale(1 1.06)">80</text><text transform="translate(1721 969.25) scale(1 1.06)">100</text></g>
<text transform="translate(1203.2 1138.75) rotate(-90) scale(1 1.06)" text-anchor="middle" class="tt" font-size="19.8">Frequency</text>
<text transform="translate(1769.2 1139.4) rotate(-90) scale(1 1.06)" text-anchor="middle" class="tt" font-size="19.8">Cumulative Percent</text>
<text transform="translate(1479.9 1368) scale(1 1.04)" text-anchor="middle" class="tt" font-size="20.3">Loading Direction</text>
</g>
<g class="chart">
<g fill="#4DBBFF" stroke="#151515" stroke-width="1.6"><rect x="404.03" y="1575.34" width="26.93" height="217.16"/><rect x="437.7" y="1606.37" width="26.93" height="186.13"/><rect x="471.37" y="1606.37" width="26.93" height="186.13"/><rect x="505.03" y="1559.83" width="26.93" height="232.67"/><rect x="572.37" y="1474.52" width="26.93" height="317.98"/><rect x="639.7" y="1676.17" width="26.93" height="116.33"/><rect x="740.7" y="1497.79" width="26.93" height="294.71"/></g>
<g class="bl" font-size="19.5"><text transform="translate(383.83 1788) scale(1 1.06)">0</text><text transform="translate(417.5 1570.84) scale(1 1.06)">28</text><text transform="translate(451.17 1601.87) scale(1 1.06)">24</text><text transform="translate(484.83 1601.87) scale(1 1.06)">24</text><text transform="translate(518.5 1555.33) scale(1 1.06)">30</text><text transform="translate(552.17 1788) scale(1 1.06)">0</text><text transform="translate(585.83 1470.02) scale(1 1.06)">41</text><text transform="translate(619.5 1788) scale(1 1.06)">0</text><text transform="translate(653.17 1671.67) scale(1 1.06)">15</text><text transform="translate(686.83 1788) scale(1 1.06)">0</text><text transform="translate(720.5 1788) scale(1 1.06)">0</text><text transform="translate(754.17 1493.29) scale(1 1.06)">38</text></g>
<path d="M821.5 1792.5h6.6M821.5 1757.6h3.8M821.5 1722.7h6.6M821.5 1687.8h3.8M821.5 1652.9h6.6M821.5 1618h3.8M821.5 1583.1h6.6M821.5 1548.2h3.8M821.5 1513.3h6.6M821.5 1478.4h3.8M821.5 1443.5h6.6" stroke="#111" stroke-width="1.2" fill="none"/>
<path d="M383.83 1792.5 L417.5 1743.64 L451.17 1701.76 L484.83 1659.88 L518.5 1607.53 L552.17 1607.53 L585.83 1535.98 L619.5 1535.98 L653.17 1509.81 L686.83 1509.81 L720.5 1509.81 L754.17 1443.5" fill="none" stroke="#000" stroke-width="2.1" stroke-linejoin="round" clip-path="url(#cp9)"/>
<rect x="367" y="1443.5" width="454.5" height="349" fill="none" stroke="#111" stroke-width="2.0"/>
<g class="tl" font-size="17.2"><text transform="translate(358.2 1797.5) scale(1 1.06)" text-anchor="end">0</text><text transform="translate(358.2 1758.72) scale(1 1.06)" text-anchor="end">5</text><text transform="translate(358.2 1719.94) scale(1 1.06)" text-anchor="end">10</text><text transform="translate(358.2 1681.17) scale(1 1.06)" text-anchor="end">15</text><text transform="translate(358.2 1642.39) scale(1 1.06)" text-anchor="end">20</text><text transform="translate(358.2 1603.61) scale(1 1.06)" text-anchor="end">25</text><text transform="translate(358.2 1564.83) scale(1 1.06)" text-anchor="end">30</text><text transform="translate(358.2 1526.06) scale(1 1.06)" text-anchor="end">35</text><text transform="translate(358.2 1487.28) scale(1 1.06)" text-anchor="end">40</text><text transform="translate(358.2 1448.5) scale(1 1.06)" text-anchor="end">45</text></g>
<g class="tl" font-size="18.2"><text transform="translate(400.67 1814.5) scale(1 1.05)" text-anchor="middle">0.000</text><text transform="translate(484.83 1814.5) scale(1 1.05)" text-anchor="middle">0.005</text><text transform="translate(569 1814.5) scale(1 1.05)" text-anchor="middle">0.010</text><text transform="translate(653.17 1814.5) scale(1 1.05)" text-anchor="middle">0.015</text><text transform="translate(737.33 1814.5) scale(1 1.05)" text-anchor="middle">0.020</text><text transform="translate(821.5 1814.5) scale(1 1.05)" text-anchor="middle">0.025</text></g>
<g class="tl" font-size="17.8"><text transform="translate(833.5 1797.5) scale(1 1.06)">0</text><text transform="translate(833.5 1727.7) scale(1 1.06)">20</text><text transform="translate(833.5 1657.9) scale(1 1.06)">40</text><text transform="translate(833.5 1588.1) scale(1 1.06)">60</text><text transform="translate(833.5 1518.3) scale(1 1.06)">80</text><text transform="translate(833.5 1448.5) scale(1 1.06)">100</text></g>
<text transform="translate(320.7 1617) rotate(-90) scale(1 1.06)" text-anchor="middle" class="tt" font-size="19.8">Frequency</text>
<text transform="translate(882.3 1627.4) rotate(-90) scale(1 1.06)" text-anchor="middle" class="tt" font-size="19.8">Cumulative Percent</text>
<text transform="translate(594 1850.75) scale(1 1.04)" text-anchor="middle" class="tt" font-size="20.3">Fiber Volume Fraction (%)</text>
</g>
<g class="chart">
<g fill="#4DBBFF" stroke="#151515" stroke-width="1.6"><rect x="1010.32" y="1751.5" width="36.78" height="45.4"/><rect x="1056.29" y="1635.46" width="36.78" height="161.44"/><rect x="1102.27" y="1670.78" width="36.78" height="126.12"/><rect x="1148.24" y="1701.05" width="36.78" height="95.86"/><rect x="1194.22" y="1474.02" width="36.78" height="322.88"/><rect x="1240.19" y="1650.6" width="36.78" height="146.31"/><rect x="1286.17" y="1726.27" width="36.78" height="70.63"/><rect x="1332.14" y="1756.54" width="36.78" height="40.36"/></g>
<g class="bl" font-size="19.5"><text transform="translate(1028.71 1747) scale(1 1.06)">9</text><text transform="translate(1074.68 1630.96) scale(1 1.06)">32</text><text transform="translate(1120.66 1666.28) scale(1 1.06)">25</text><text transform="translate(1166.63 1696.55) scale(1 1.06)">19</text><text transform="translate(1212.61 1469.52) scale(1 1.06)">64</text><text transform="translate(1258.58 1646.1) scale(1 1.06)">29</text><text transform="translate(1304.56 1721.77) scale(1 1.06)">14</text><text transform="translate(1350.53 1752.04) scale(1 1.06)">8</text></g>
<path d="M1408 1796.9h6.6M1408 1761.59h3.8M1408 1726.27h6.6M1408 1690.96h3.8M1408 1655.64h6.6M1408 1620.33h3.8M1408 1585.01h6.6M1408 1549.7h3.8M1408 1514.38h6.6M1408 1479.07h3.8M1408 1443.75h6.6" stroke="#111" stroke-width="1.2" fill="none"/>
<path d="M1028.71 1781.01 L1074.68 1724.5 L1120.66 1680.36 L1166.63 1646.81 L1212.61 1533.8 L1258.58 1482.6 L1304.56 1457.88 L1350.53 1443.75" fill="none" stroke="#000" stroke-width="2.1" stroke-linejoin="round" clip-path="url(#cp10)"/>
<rect x="948.25" y="1443.75" width="459.75" height="353.15" fill="none" stroke="#111" stroke-width="2.0"/>
<g class="tl" font-size="17.2"><text transform="translate(940.25 1802.5) scale(1 1.06)" text-anchor="end">0</text><text transform="translate(940.25 1752.05) scale(1 1.06)" text-anchor="end">10</text><text transform="translate(940.25 1701.6) scale(1 1.06)" text-anchor="end">20</text><text transform="translate(940.25 1651.15) scale(1 1.06)" text-anchor="end">30</text><text transform="translate(940.25 1600.7) scale(1 1.06)" text-anchor="end">40</text><text transform="translate(940.25 1550.25) scale(1 1.06)" text-anchor="end">50</text><text transform="translate(940.25 1499.8) scale(1 1.06)" text-anchor="end">60</text><text transform="translate(940.25 1449.35) scale(1 1.06)" text-anchor="end">70</text></g>
<g class="tl" font-size="18.2"><text transform="translate(948.25 1818.9) scale(1 1.05)" text-anchor="middle">−25</text><text transform="translate(1005.72 1818.9) scale(1 1.05)" text-anchor="middle">0</text><text transform="translate(1063.19 1818.9) scale(1 1.05)" text-anchor="middle">25</text><text transform="translate(1120.66 1818.9) scale(1 1.05)" text-anchor="middle">50</text><text transform="translate(1178.12 1818.9) scale(1 1.05)" text-anchor="middle">75</text><text transform="translate(1235.59 1818.9) scale(1 1.05)" text-anchor="middle">100</text><text transform="translate(1293.06 1818.9) scale(1 1.05)" text-anchor="middle">125</text><text transform="translate(1350.53 1818.9) scale(1 1.05)" text-anchor="middle">150</text><text transform="translate(1408 1818.9) scale(1 1.05)" text-anchor="middle">175</text></g>
<g class="rls"><text transform="translate(1420 1802.1) scale(1 1.04)">0</text><text transform="translate(1420 1731.47) scale(1 1.04)">20</text><text transform="translate(1420 1660.84) scale(1 1.04)">40</text><text transform="translate(1420 1590.21) scale(1 1.04)">60</text><text transform="translate(1420 1519.58) scale(1 1.04)">80</text><text transform="translate(1420 1448.95) scale(1 1.04)">100</text></g>
<text transform="translate(900.7 1620) rotate(-90) scale(1 1.06)" text-anchor="middle" class="tt" font-size="19.8">Frequency</text>
<text transform="translate(1472 1619.5) rotate(-90) scale(1 1.06)" text-anchor="middle" class="tt" font-size="19.8">Cumulative Percent</text>
<text transform="translate(1177.75 1850.5) scale(1 1.04)" text-anchor="middle" class="tt" font-size="20.3">CS (MPa)</text>
<rect x="950.5" y="1449" width="238.5" height="27.5" fill="#fff" stroke="#777" stroke-width="1"/>
<path d="M954.3 1462.8H998.8" stroke="#000" stroke-width="1.9"/>
<text transform="translate(1003.8 1469.4) scale(1 1.05)" class="lg">Cumulative Frequency</text>
</g>
</svg>
</body>
</html>
